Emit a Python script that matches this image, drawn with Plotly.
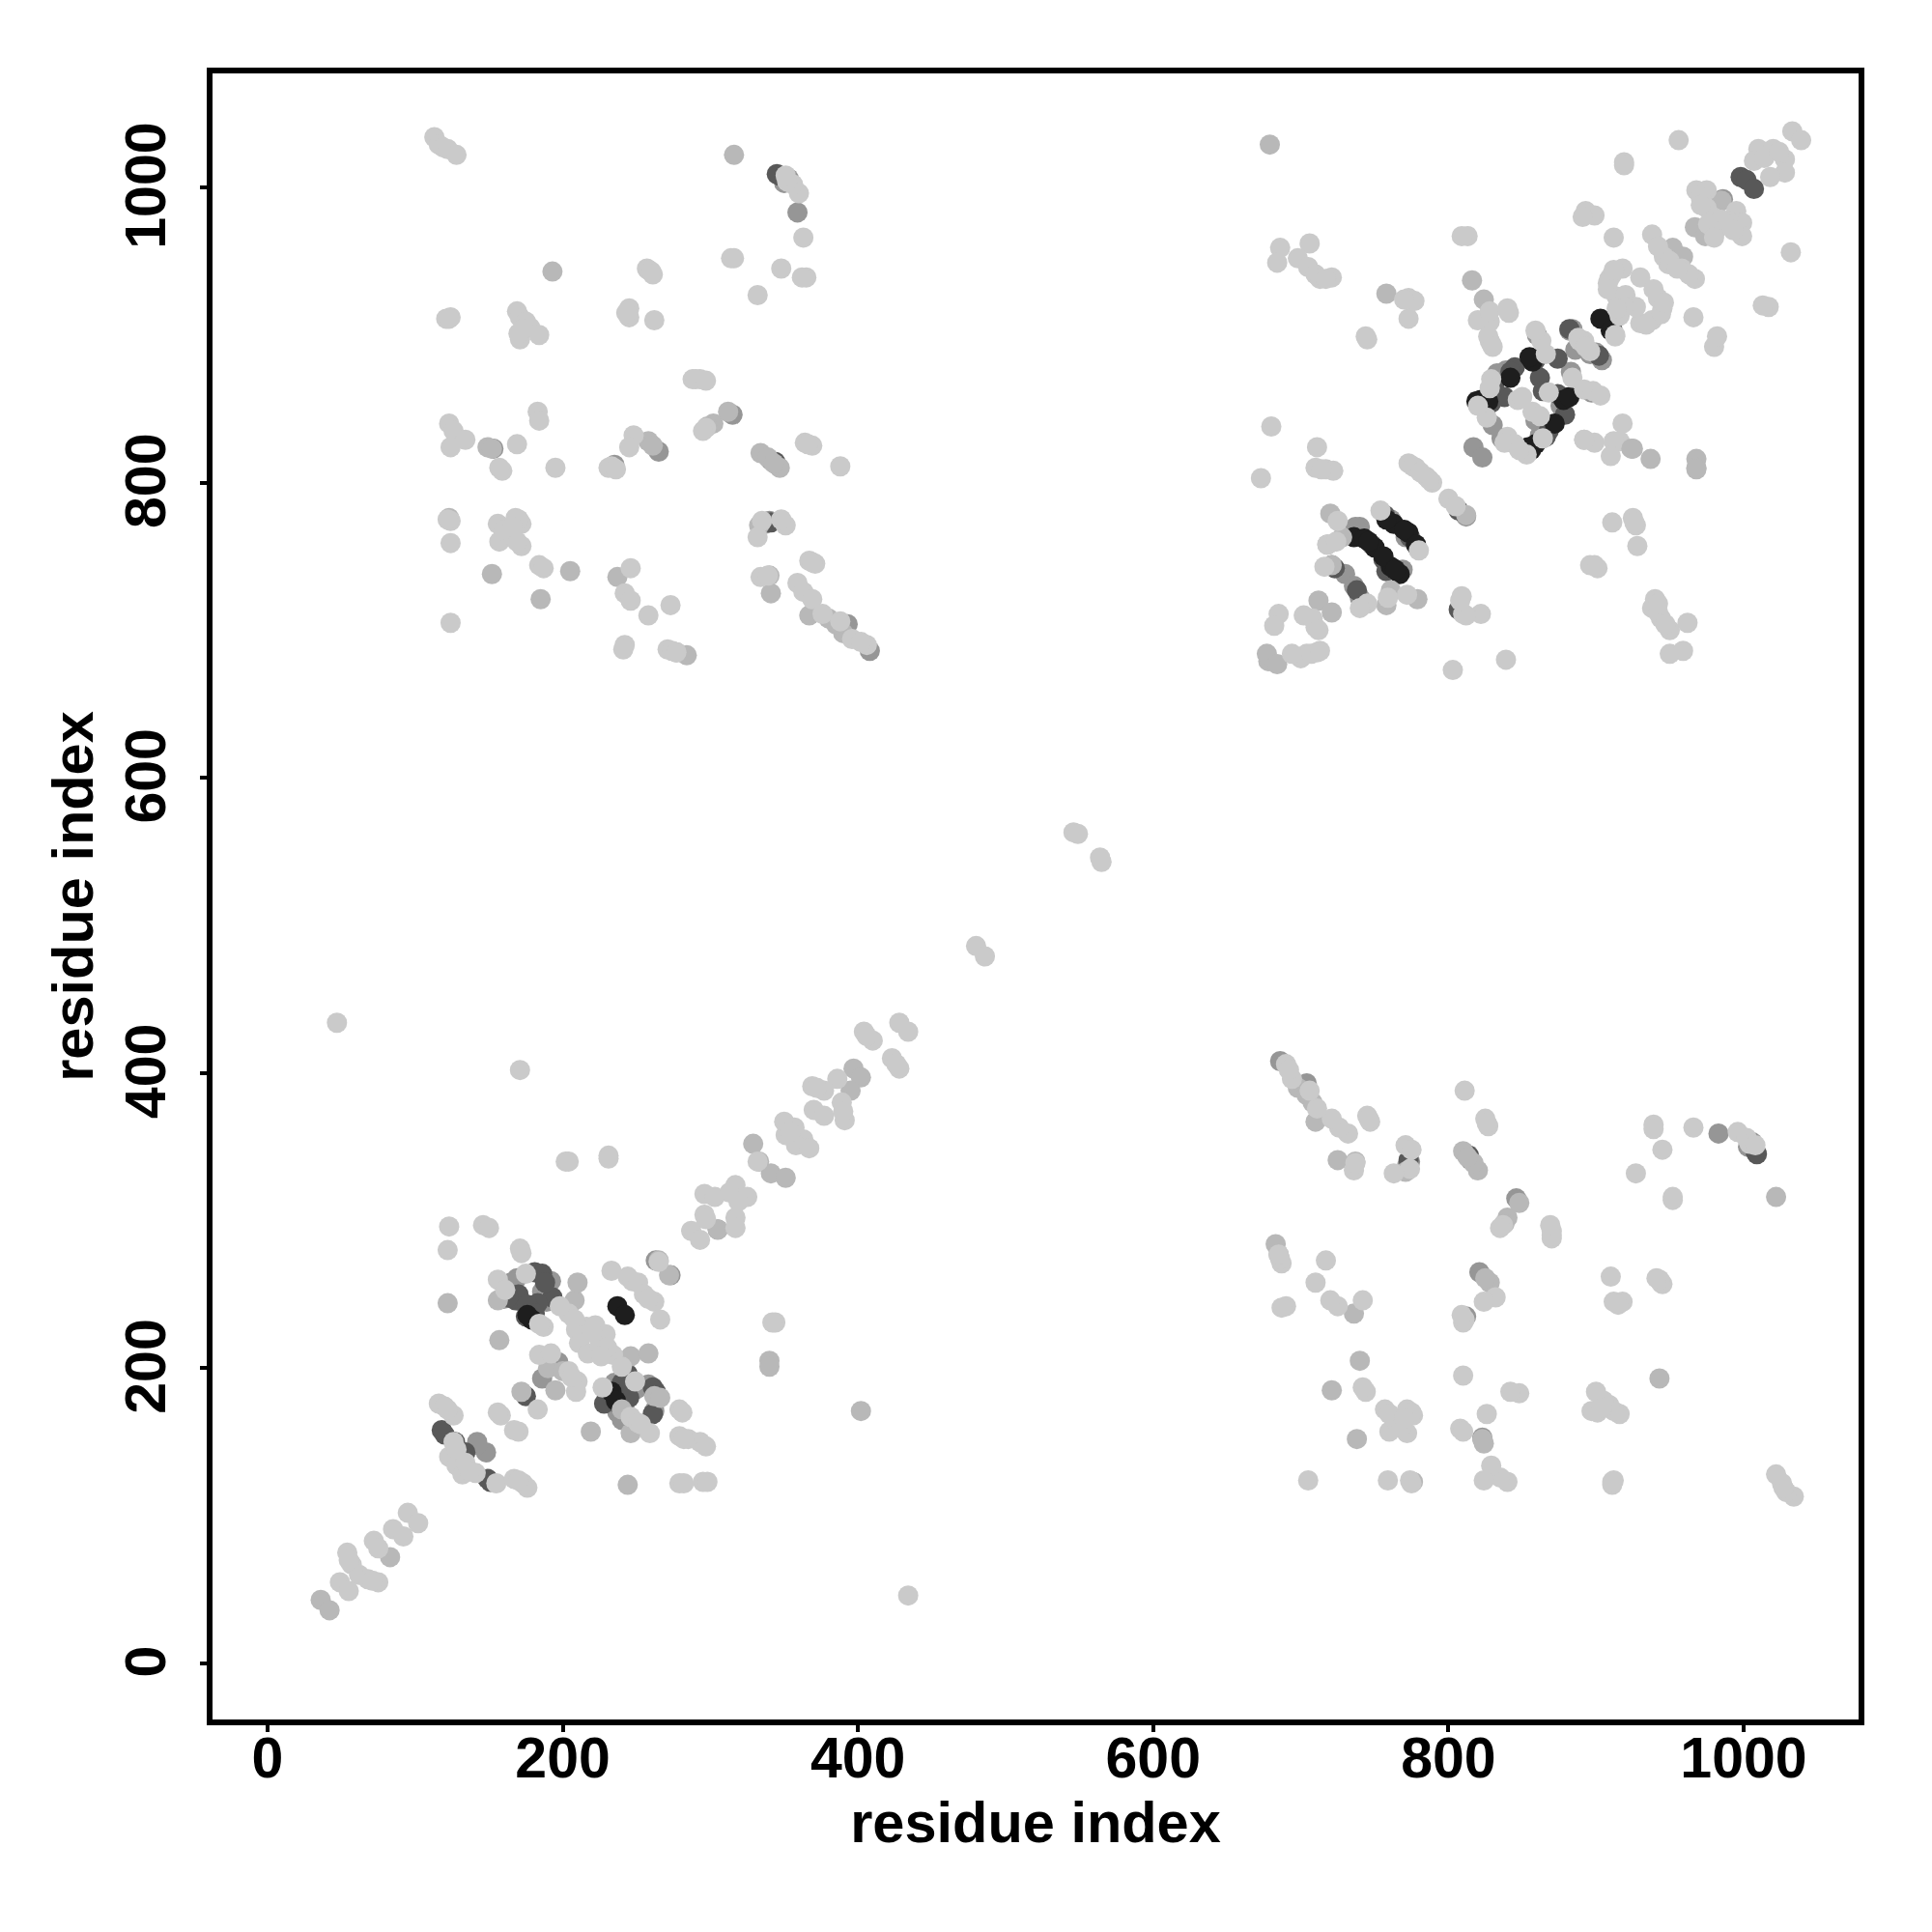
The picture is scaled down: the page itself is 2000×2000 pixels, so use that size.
import plotly.graph_objects as go

# (residue i, residue j) contacts in the upper-left quadrant; the map is symmetric, so each also appears as (j, i)
quad_light = [(113,1034),(116,1029),(119,1027),(122,1026),(128,1022),(363,966),(316,952),(314,952),(348,945),(365,939),(362,939),(332,927),
 (257,945),(258,944),(260,943),(261,941),(124,912),(121,911),(169,916),(171,912),(175,909),(178,905),(184,900),(171,897),(170,901),(173,904),
 (245,918),(245,912),(243,915),(262,910),(293,870),(288,870),(290,870),(297,869),(123,840),(126,835),(134,829),(124,824),(183,848),(184,842),
 (169,826),(159,808),(157,810),(195,810),(248,832),(245,824),(231,810),(233,811),(236,809),(364,827),(369,825),(366,826),(388,811),
 (124,774),(122,775),(124,759),(156,772),(168,776),(172,772),(170,775),(157,760),(172,757),(163,765),(169,760),(160,768),(166,770),(184,744),(187,742),
 (124,705),(246,742),(242,725),(246,720),(258,710),(273,717),(242,690),(241,687),(271,687),(274,686),(277,685),
 (351,771),(348,775),(335,774),(332,763),(367,747),(371,745),(369,746),(359,732),(363,726),(369,721),(376,711),(388,706),(396,694),(406,690),(402,692),
 (334,736),(339,737),(297,837),(295,835),(360,996),(356,1002),(123,911),(352,1004),(351,1008)]
quad_mid = [(316,1022),(193,943),(123,776),(149,824),(152,823),(258,828),(261,825),(302,840),(312,848),(334,820),(339,817),(347,810),(343,813),(340,737),(333,771),
 (205,740),(185,721),(152,738),(237,736),(277,685),(284,683),(341,725),(367,710),(390,698),(385,704),(298,838),(380,708)]
quad_gray = [(353,1006),(349,1007),(359,983),(153,823),(265,821),(315,846),(235,812),(340,774),(408,686),(350,1003),(337,772),(345,812),(341,815),(393,704)]
quad_dark = [(347,1008),(345,1009),(341,773),(344,814)]

# Contacts close to the diagonal and the other stray points, read where they are drawn
upper_light = [(1033,1038),(1039,1032),(956,1032),(919,1017),(919,1015),(1010,1026),(1020,1026),(1028,1019),(1028,1010),(1018,1007),(1007,1018),(1014,1020),(1024,1024),
 (968,998),(975,998),(971,993),(995,984),(999,976),(999,967),(979,980),(975,986),(971,988),(982,972),(990,977),(985,978),(976,975),(993,971),(980,966),
 (893,984),(899,981),(891,980),(912,966),(813,967),(809,967),(1032,956),(938,968),(946,953),(949,948),(958,945),(967,938),(963,941),(942,960),(950,950),(955,945),
 (1017,919),(1013,920),(966,912),(980,892),(982,899),(918,945),(911,941),(908,935),(908,931),(914,926),(920,927),(930,939),(939,931),(945,918),(938,910),(930,908),(927,919),(944,914),(934,907),(919,919),(914,918),(913,899),(942,925),(946,922),(909,938),(912,944),
 (889,896),(893,892),(828,916),(840,918),(827,899),(830,892),(773,925),(777,923),(773,911),(770,924),(744,899),(745,897),(686,959),(684,949),(706,962),(698,952),(705,946),(710,941),(713,938),(721,939),(717,938)]
ring_light = [(829,870),(828,864),(866,887),(863,896),(859,903),(884,871),(892,863),(898,862),(903,859),(868,861),(864,830),(853,819),(857,848),(847,856),(826,844),(820,852),(845,826),(840,831),
 (892,829),(899,827),(918,840),(916,828),(912,828),(910,818),(888,898),(892,896),(896,889),(828,896),(828,909),(820,910),(829,894),(841,915),(913,900),(916,913),(850,858),(862,845),(838,827),(848,822)]
block_light = [(754,781),(780,754),(725,774),(718,758),(724,760),(716,743),(745,718),(740,715),(759,722),(772,724),(702,710),(710,702),(711,685),(704,684),(700,681),(707,684),(713,686),(708,708),(712,700),
 (810,711),(809,723),(822,711),(812,710),(808,720),(800,789),(805,784),(773,813),(778,810),(785,804),(789,800),(776,811),(787,802),(781,807),
 (680,838),(711,824),(710,810),(717,809),(722,808),(714,809),(673,803),(892,829),(911,773),(925,776),(927,771),(928,757),(926,773),(899,744),(896,744),(901,742),
 (685,711),(682,703),(694,684),(940,721),(938,715),(944,708),(950,700),(962,705),(950,684),(959,686),(942,712),(803,673),(839,680),(942,718),(947,704)]
lower_light = [(47,434),(171,402),(434,46),(428,434),(434,428),(404,428),(410,422),(423,410),(428,403),(426,406),(406,425),(386,396),(369,391),(377,388),(372,390),(370,375),(377,371),(389,380),(391,368),(390,374),
 (350,367),(357,363),(351,358),(363,355),(358,351),(367,349),(354,360),(332,340),(296,318),(303,316),(317,324),(325,316),(313,319),(319,313),(296,304),(297,301),(287,293),(293,287),(317,302),(317,295),
 (202,340),(204,340),(231,344),(231,342),(123,296),(122,280),(146,297),(150,295),(171,281),(172,278),(156,260),(233,266),(244,262),(247,259),(251,258),(255,250),(262,245),(258,247),(266,233),(265,272),
 (209,226),(216,228),(222,229),(229,223),(211,217),(217,210),(225,216),(234,209),(204,237),(208,233),(198,242),(213,222),(220,224),(230,214),(226,208),(240,201),
 (184,209),(192,210),(204,198),(210,191),(209,184),(206,194),(183,172),(158,168),(156,170),(170,157),(167,158),(227,187),(249,191),(246,167),(251,163),(259,156),(253,162),(279,172),(281,170),(279,154),(285,152),(293,150),(297,147),(282,152),
 (187,228),(175,264),(161,253),(184,230),(116,176),(120,174),(126,168),(126,150),(123,140),(128,134),(132,128),(141,129),(155,122),(167,125),(173,122),(176,119),(134,136),(137,130),(128,145),(122,172),(170,124),
 (95,102),(102,95),(85,91),(92,86),(72,83),(75,78),(54,75),(57,67),(62,60),(68,57),(75,55),(71,56),(55,70),(49,55),(55,49),(344,231),(342,231),(480,486),(486,479),(546,563),(549,562),(564,546),(565,543),(279,122),(282,122),(295,123),(298,123)]
all_mid = [(679,1029),(985,991),(967,973),(974,967),(952,959),(959,953),(816,937),(824,924),(758,928),(678,679),(937,816),(925,823),(968,816),(968,810),(968,809),(924,823),
 (779,721),(720,779),(728,763),(712,720),(721,712),(761,727),(758,717),(677,684),(684,677),(812,778),(721,744),(718,758),
 (329,352),(333,340),(341,332),(351,329),(397,403),(402,397),(395,388),(208,246),(210,258),(156,246),(157,219),(246,208),(258,210),(219,157),(246,156),(195,185),(172,184),(262,181),(266,180),
 (340,205),(340,201),(402,171),(122,244),(36,43),(42,36),(83,72),(244,121),(305,294),(265,273),(272,263),(240,172),(190,200),(200,198)]
all_gray = [(860,900),(883,875),(876,852),(862,832),(859,842),(836,830),(817,824),(823,817),(830,839),(839,876),(833,874),(897,861),(904,883),(884,904),(882,903),(896,887),
 (740,770),(748,758),(771,763),(769,741),(721,744),(730,738),(736,730),(740,722),(737,770),(761,775),(812,777),(986,992),(900,888),(886,890),
 (169,261),(166,250),(172,245),(189,245),(192,259),(273,263),(263,273),(197,204),(186,193),(258,189),(230,180),(242,172),(262,171),(232,177),(237,170),(142,150),(148,143),(142,148),(305,294),
 (165,258),(160,247),(186,252),(250,186),(240,165),(235,190)]
all_dark = [(998,1007),(1002,1005),(1007,999),(845,878),(862,871),(864,862),(874,884),(879,846),(868,835),(829,854),(838,858),(874,860),(842,875),(859,883),(866,831),(831,864),(902,886),(882,904),(911,904),
 (757,778),(774,763),(756,748),(723,742),(738,727),(807,781),(807,714),(758,740),
 (181,265),(186,264),(168,246),(193,248),(183,244),(175,235),(244,196),(261,187),(263,184),(239,174),(261,169),(235,180),(175,181),(134,143),(120,155),(118,158),(127,150),(149,125),(151,123),
 (170,250),(163,248),(188,258),(176,243),(181,237),(240,190),(245,180),(228,176)]
all_black = [(819,855),(822,856),(827,855),(842,871),(857,882),(855,885),(878,856),(882,858),(872,840),(854,824),(856,822),(859,826),(903,911),(910,903),
 (763,772),(773,766),(778,758),(736,763),(743,762),(750,756),(761,743),(767,738),(758,775),(746,760),(756,750),(770,768),(764,741),
 (237,242),(242,236),(179,233),(233,184),(176,236),(236,178)]

tick_vals = [0, 200, 400, 600, 800, 1000]
tick_text = ["0", "200", "400", "600", "800", "1000"]
axis_title = "residue index"

def both_sides(pairs):
    return pairs + [(j, i) for i, j in pairs]

groups = [
    (all_gray + both_sides(quad_gray), "rgb(150,150,150)"),
    (all_dark + both_sides(quad_dark), "rgb(88,88,88)"),
    (all_black, "rgb(30,30,30)"),
    (ring_light, "rgb(202,202,202)"),
    (all_mid + both_sides(quad_mid), "rgb(184,184,184)"),
    (upper_light + block_light + lower_light + both_sides(quad_light), "rgb(202,202,202)"),
]

fig = go.Figure()
for pairs, colour in groups:
    fig.add_trace(go.Scatter(x=[p[0] for p in pairs], y=[p[1] for p in pairs], mode="markers", showlegend=False,
                             marker=dict(size=21, color=colour, line=dict(width=0))))

axis_common = dict(
    tickmode="array", tickvals=tick_vals, ticktext=tick_text,
    showgrid=False, zeroline=False, showline=True, mirror=True,
    linecolor="black", linewidth=6, ticks="outside", ticklen=7, tickwidth=3.5,
    tickcolor="black", tickfont=dict(family="Liberation Sans", size=59, color="black", weight="bold"),
)
title_font = dict(family="Liberation Sans", size=59.5, color="black")
fig.update_xaxes(range=[-37.3, 1077.9], ticklabelstandoff=-24,
                 title=dict(text="<b>%s</b>" % axis_title, standoff=14, font=title_font), **axis_common)
fig.update_yaxes(range=[-38, 1077.2], tickangle=-90, ticklabelstandoff=12, ticklabelshift=7,
                 title=dict(text="<b>%s</b>" % axis_title, standoff=5, font=title_font), **axis_common)
fig.update_layout(width=2000, height=2000, paper_bgcolor="white", plot_bgcolor="white",
                  margin=dict(l=220, r=76, t=76, b=220, autoexpand=False))
fig.write_html("out.html", config=dict(displayModeBar=False), post_script="document.body.style.margin='0';")
